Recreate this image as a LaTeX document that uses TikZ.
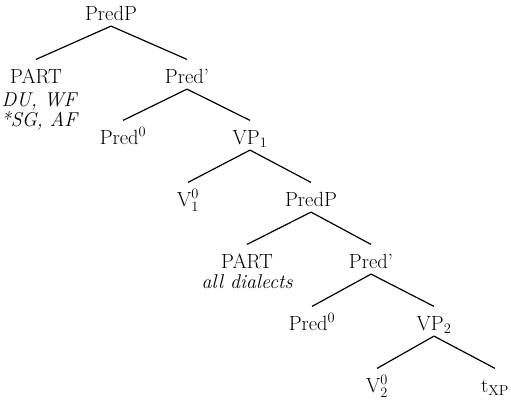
\documentclass[tikz,border=0pt]{standalone}
\usepackage{amsmath}
\usepackage{tikz}
\begin{document}
\begin{tikzpicture}[x=1pt, y=-1pt, line width=1.2pt,
    cat/.style={anchor=base, inner sep=0pt, text height=23pt, text depth=5.5pt, font=\fontsize{20.5}{23}\selectfont},
    note/.style={anchor=base, inner sep=0pt, font=\fontsize{20}{23}\selectfont\itshape}]
      \useasboundingbox (0,0) rectangle (511,405);
      % Define nodes
      \node[cat] (predp1) at (111,20) {PredP};
      \node[cat] (part1) at (36,83) {PART};
      \node[note] (dial1) at (39,106) {DU, WF};
      \node[note] (dial2) at (39,126) {*SG, AF};
      \node[cat] (predbar1) at (187,83) {Pred'};
      \node[cat] (predz1) at (123,144) {Pred$^0$};
      \node[cat] (vp1) at (250,144) {VP$_1$};
      \node[cat] (vz1) at (188,206) {V$^0_1$};
      \node[cat] (predp2) at (311,206) {PredP};
      \node[cat] (part2) at (247,268) {PART};
      \node[note] (dial3) at (247,288) {all dialects};
      \node[cat] (predbar2) at (371,268) {Pred'};
      \node[cat] (predz2) at (312,330) {Pred$^0$};
      \node[cat] (vp2) at (434,330) {VP$_2$};
      \node[cat] (vz2) at (377,392) {V$^0_2$};
      \node[cat] (txp) at (495,392) {t$_{\mathrm{XP}}$};

      % Draw edges
      \draw[-] (predp1.south) -- (part1.north);
      \draw[-] (predp1.south) -- (predbar1.north);
      \draw[-] (predbar1.south) -- (predz1.north);
      \draw[-] (predbar1.south) -- (vp1.north);
      \draw[-] (vp1.south) -- (vz1.north);
      \draw[-] (vp1.south) -- (predp2.north);
      \draw[-] (predp2.south) -- (part2.north);
      \draw[-] (predp2.south) -- (predbar2.north);
      \draw[-] (predbar2.south) -- (predz2.north);
      \draw[-] (predbar2.south) -- (vp2.north);
      \draw[-] (vp2.south) -- (vz2.north);
      \draw[-] (vp2.south) -- (txp.north);
\end{tikzpicture}
\end{document}
